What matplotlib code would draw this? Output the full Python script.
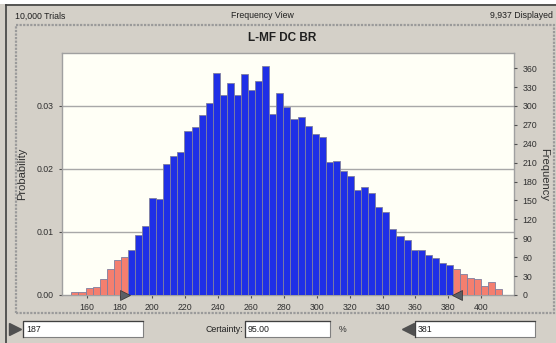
import numpy as np
import matplotlib
matplotlib.use("Agg")
import matplotlib.pyplot as plt
from matplotlib.patches import Rectangle

plt.rcParams['font.family'] = ['Liberation Sans', 'DejaVu Sans']

# ---- data ----
trials = 10000
displayed = 9937
title = "L-MF DC BR"
bin_lo = 150.7
bin_hi = 413.0
counts = [4, 4, 11, 12, 26, 41, 55, 60,
          71, 95, 110, 154, 152, 208, 221, 227, 260, 266,
          285, 305, 353, 318, 337, 318, 350, 326, 339, 364,
          287, 320, 299, 279, 283, 268, 255, 251, 211, 212,
          197, 189, 166, 171, 162, 139, 131, 104, 94, 87,
          72, 72, 63, 58, 51, 47,
          41, 34, 27, 25, 14, 20, 10]
cert_low = 187
cert_high = 381
certainty = "95.00"
x_ticks = [160, 180, 200, 220, 240, 260, 280, 300, 320, 340, 360, 380, 400]
prob_ticks = [0.00, 0.01, 0.02, 0.03]
freq_ticks = [0, 30, 60, 90, 120, 150, 180, 210, 240, 270, 300, 330, 360]

# ---- figure ----
W, H = 556, 343
fig = plt.figure(figsize=(W / 100, H / 100), dpi=100)
fig.patch.set_facecolor('#d4d0c8')

def fx(px):
    return px / W

def fy(py):
    return 1 - py / H

# window border lines
fig.add_artist(plt.Line2D([fx(6), fx(556)], [fy(5), fy(5)], color='#404040', lw=1.2))
fig.add_artist(plt.Line2D([fx(6), fx(6)], [fy(5), fy(343)], color='#404040', lw=1.2))
fig.add_artist(Rectangle((0, fy(4)), 1, fy(0) - fy(4), transform=fig.transFigure,
                         facecolor='white', edgecolor='none'))

# inner etched frame
fig.add_artist(Rectangle((fx(16), fy(313)), fx(554) - fx(16), fy(25) - fy(313),
                         transform=fig.transFigure, facecolor='none',
                         edgecolor='#9a9a9a', lw=1.6, linestyle=(0, (1, 0.6))))

# header texts
fig.text(fx(15), fy(16), f"{trials:,} Trials", fontsize=6.3, va='center', ha='left', color='#202020')
fig.text(fx(262), fy(16), "Frequency View", fontsize=6.3, va='center', ha='center', color='#202020')
fig.text(fx(553), fy(16), f"{displayed:,} Displayed", fontsize=6.3, va='center', ha='right', color='#202020')
fig.text(fx(282), fy(38), title, fontsize=8.5, fontweight='bold', va='center', ha='center', color='#202020')

# axes
ax = fig.add_axes([fx(62), fy(295), fx(514) - fx(62), fy(53) - fy(295)])
ax.set_facecolor('#fffff6')
edges = np.linspace(bin_lo, bin_hi, len(counts) + 1)
centers = (edges[:-1] + edges[1:]) / 2
width = edges[1] - edges[0]
probs = np.array(counts) / trials
inside = (centers >= cert_low) & (centers <= cert_high)
colors = np.where(inside, '#1f2fe6', '#f47f6f')
ax.bar(centers, probs, width=width, color=colors, edgecolor='#7f7f9f', linewidth=0.6, zorder=3)

ymax = 0.03841
ax.set_xlim(145, 420)
ax.set_ylim(0, ymax)
ax.set_xticks(x_ticks)
ax.set_yticks(prob_ticks)
ax.set_yticklabels([f"{t:.2f}" for t in prob_ticks])
for t in prob_ticks[1:]:
    ax.axhline(t, color='#a8a8a8', lw=1.0, zorder=1)
ax.tick_params(axis='both', labelsize=6.3, colors='#505050', labelcolor='#303030', length=2.5, width=0.8)
ax.tick_params(axis='x', pad=3)
for s in ax.spines.values():
    s.set_color('#a0a0a0')
    s.set_linewidth(1.0)
ax.set_ylabel("Probability", fontsize=8, color='#303030', labelpad=7)

ax2 = ax.twinx()
ax2.set_ylim(0, ymax * trials)
ax2.set_yticks(freq_ticks)
ax2.tick_params(axis='y', labelsize=6.3, colors='#505050', labelcolor='#303030', length=2.5, width=0.8)
for s in ax2.spines.values():
    s.set_visible(False)
ax2.set_ylabel("Frequency", fontsize=8, color='#303030', rotation=-90, labelpad=9)

# certainty grabbers at red/blue boundaries
idx_in = np.where(inside)[0]
left_edge = edges[idx_in[0]]
right_edge = edges[idx_in[-1] + 1]
ax.plot([left_edge - 2.0], [0], marker='>', markersize=7, color='#5a5f66',
        markeredgecolor='#303030', markeredgewidth=0.5, clip_on=False, zorder=5)
ax.plot([right_edge + 2.2], [0], marker='<', markersize=7, color='#5a5f66',
        markeredgecolor='#303030', markeredgewidth=0.5, clip_on=False, zorder=5)

# bottom controls
def textbox(x0, x1, y0, y1, txt):
    fig.add_artist(Rectangle((fx(x0), fy(y1)), fx(x1) - fx(x0), fy(y0) - fy(y1),
                             transform=fig.transFigure, facecolor='white',
                             edgecolor='#808080', lw=0.8))
    fig.add_artist(plt.Line2D([fx(x0), fx(x0), fx(x1)], [fy(y1), fy(y0), fy(y0)],
                              color='#404040', lw=0.9))
    fig.text(fx(x0 + 3), fy((y0 + y1) / 2), txt, fontsize=6.3, va='center', ha='left', color='#202020')

textbox(23, 143, 321, 337, f"{cert_low}")
textbox(245, 330, 321, 337, certainty)
textbox(415, 535, 321, 337, f"{cert_high}")
fig.text(fx(243), fy(329), "Certainty:", fontsize=6.3, va='center', ha='right', color='#202020')
fig.text(fx(339), fy(329), "%", fontsize=6.3, va='center', ha='left', color='#303030')
fig.add_artist(plt.Line2D([fx(15)], [fy(329)], marker='>', markersize=8, color='#505050',
                          transform=fig.transFigure))
fig.add_artist(plt.Line2D([fx(408)], [fy(329)], marker='<', markersize=8, color='#505050',
                          transform=fig.transFigure))

fig.savefig("out.png", dpi=100, facecolor=fig.get_facecolor())
